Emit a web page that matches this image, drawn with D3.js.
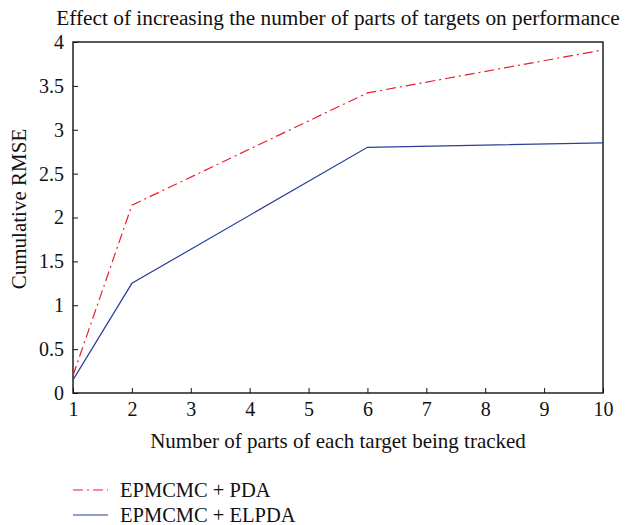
<!DOCTYPE html>
<html>
<head>
<meta charset="utf-8">
<script src="https://cdn.jsdelivr.net/npm/d3@7"></script>
<style>
  body { margin: 0; background: #fff; }
  text { font-family: "Liberation Serif", "DejaVu Serif", serif; fill: #111; }
</style>
</head>
<body>
<div id="viz"></div>
<script>
// data
const parts = [1, 2, 6, 10];
const pdaRmse = [0.2, 2.14, 3.42, 3.91];
const elpdaRmse = [0.15, 1.25, 2.80, 2.85];
const seriesNames = ['EPMCMC + PDA', 'EPMCMC + ELPDA'];
const xTicks = [1, 2, 3, 4, 5, 6, 7, 8, 9, 10];
const yTicks = [0, 0.5, 1, 1.5, 2, 2.5, 3, 3.5, 4];

function buildChart(containerId) {
    const width = 627;
    const height = 525;
    const margin = { top: 42, left: 73, right: 24, bottom: 132 };
    const innerWidth = width - margin.left - margin.right;
    const innerHeight = height - margin.top - margin.bottom;

    const svg = d3.select(containerId)
        .append('svg')
        .attr('width', width)
        .attr('height', height);

    const g = svg.append('g')
        .attr('transform', `translate(${margin.left},${margin.top})`);

    const x = d3.scaleLinear().domain([1, 10]).range([0, innerWidth]);
    const y = d3.scaleLinear().domain([0, 4]).range([innerHeight, 0]);

    // frame
    g.append('rect')
        .attr('width', innerWidth)
        .attr('height', innerHeight)
        .attr('fill', 'none')
        .attr('stroke', '#111')
        .attr('stroke-width', 1.4);

    const xAxis = d3.axisBottom(x).tickValues(xTicks).tickFormat(d3.format('d'))
        .tickSizeInner(-5).tickSizeOuter(0).tickPadding(9);
    const yAxis = d3.axisLeft(y).tickValues(yTicks).tickFormat(d => d)
        .tickSizeInner(-5).tickSizeOuter(0).tickPadding(9);

    g.append('g')
        .attr('transform', `translate(0,${innerHeight})`)
        .call(xAxis)
        .call(a => a.select('.domain').remove())
        .selectAll('text').attr('font-size', 20);

    g.append('g')
        .call(yAxis)
        .call(a => a.select('.domain').remove())
        .selectAll('text').attr('font-size', 20);

    g.selectAll('.tick line').attr('stroke', '#111');

    const line = d3.line()
        .x(d => x(d[0]))
        .y(d => y(d[1]));

    const series = [
        { name: seriesNames[0], values: d3.zip(parts, pdaRmse), color: '#e8202a', dash: '10,4,2,4' },
        { name: seriesNames[1], values: d3.zip(parts, elpdaRmse), color: '#2a3f9c', dash: null }
    ];

    g.selectAll('.series')
        .data(series)
        .enter()
        .append('path')
        .attr('class', 'series')
        .attr('fill', 'none')
        .attr('stroke', d => d.color)
        .attr('stroke-width', 1.2)
        .attr('stroke-dasharray', d => d.dash)
        .attr('d', d => line(d.values));

    // title and axis labels
    svg.append('text')
        .attr('x', 338)
        .attr('y', 25)
        .attr('text-anchor', 'middle')
        .attr('font-size', 21.3)
        .text('Effect of increasing the number of parts of targets on performance');

    svg.append('text')
        .attr('x', 338)
        .attr('y', 448)
        .attr('text-anchor', 'middle')
        .attr('font-size', 21)
        .text('Number of parts of each target being tracked');

    svg.append('text')
        .attr('transform', 'translate(26,209) rotate(-90)')
        .attr('text-anchor', 'middle')
        .attr('font-size', 21)
        .text('Cumulative RMSE');

    // legend
    const legend = svg.append('g').attr('transform', 'translate(73,490)');
    const items = legend.selectAll('g')
        .data(series)
        .enter()
        .append('g')
        .attr('transform', (d, i) => `translate(0,${i * 25})`);

    items.append('line')
        .attr('x1', 0).attr('x2', 35)
        .attr('stroke', d => d.color)
        .attr('stroke-width', 1.2)
        .attr('stroke-dasharray', d => d.dash);

    items.append('text')
        .attr('x', 47)
        .attr('y', 7)
        .attr('font-size', 20.5)
        .text(d => d.name);
}

buildChart('#viz');
</script>
</body>
</html>
